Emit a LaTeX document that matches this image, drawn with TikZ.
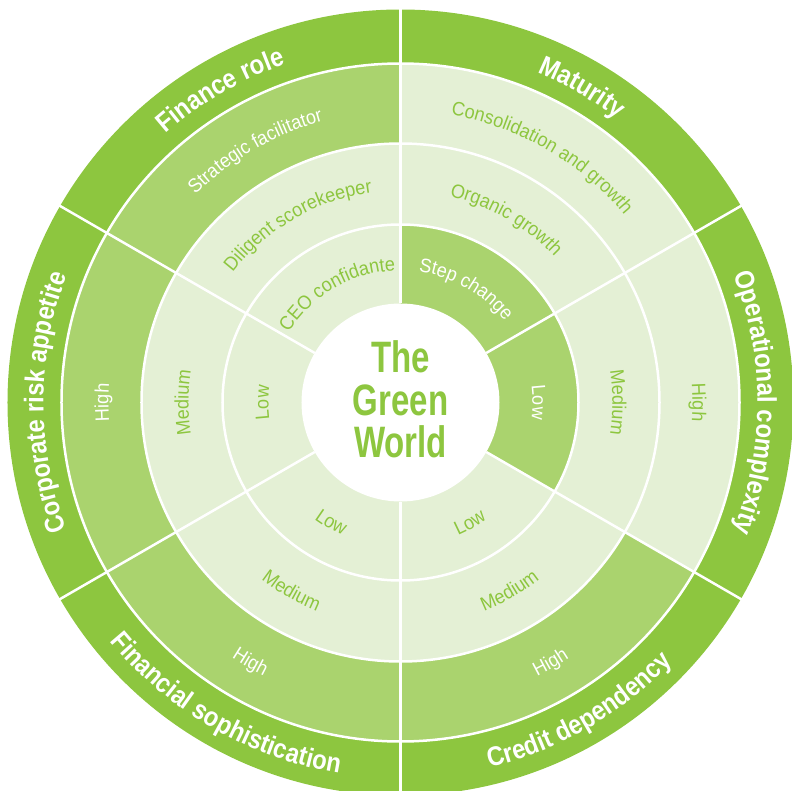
\documentclass[tikz,border=0pt]{standalone}
\usepackage{fontspec}
\setmainfont{Liberation Sans}
\newfontfamily\titlefont[FakeStretch=0.88]{Liberation Sans}
\newfontfamily\labelfont[FakeStretch=0.93]{Liberation Sans}
\newfontfamily\centerfont[FakeStretch=0.75]{Liberation Sans}
\usetikzlibrary{decorations.text}
\definecolor{dg}{RGB}{141,198,63}
\definecolor{mg}{RGB}{170,211,110}
\definecolor{lg}{RGB}{228,240,213}
\newcommand\tfmt{\titlefont\bfseries\fontsize{27}{30}\selectfont\color{white}}
\newcommand\lwfmt{\labelfont\fontsize{19.5}{21}\selectfont\color{white}}
\newcommand\lgfmt{\labelfont\fontsize{19.5}{21}\selectfont\color{dg}}
\newcommand\arctext[5]{%
  \path[decorate, decoration={text along path, text={|#1|#5}, text align=center}]
    (#2:#4pt) arc[start angle=#2, end angle=#3, radius=#4pt];}
\tikzset{sep/.style={draw=white, line width=2.5pt},
  ctr/.style={text=dg, anchor=base, inner sep=0pt, font=\centerfont\bfseries\fontsize{44}{44}\selectfont}}
\begin{document}
\begin{tikzpicture}
\useasboundingbox (-400.5pt,-387.5pt) rectangle (391.5pt,402.5pt);
\clip (-400.5pt,-387.5pt) rectangle (391.5pt,402.5pt);
% discs and sectors
\fill[dg] (0,0) circle[radius=393pt];
\fill[lg] (0,0) circle[radius=339pt];
\fill[mg] (0,0) -- (90:339pt) arc[start angle=90, end angle=330, radius=339pt] -- cycle;
\fill[lg] (0,0) circle[radius=259pt];
\fill[mg] (0,0) -- (-30:178pt) arc[start angle=-30, end angle=90, radius=178pt] -- cycle;
\fill[white] (0,0) circle[radius=99pt];
% separators
\foreach \r in {178,259,339} \draw[sep] (0,0) circle[radius=\r pt];
\foreach \a in {90,30,-30,-90,-150,150} \draw[sep] (\a:99pt) -- (\a:400pt);
% titles
\arctext{\tfmt}{150}{90}{357}{Finance role}
\arctext{\tfmt}{90}{30}{357}{Maturity}
\arctext{\tfmt}{30}{-30}{357}{Operational complexity}
\arctext{\tfmt}{210}{150}{357}{Corporate risk appetite}
\arctext{\tfmt}{210}{270}{376}{Financial sophistication}
\arctext{\tfmt}{270}{330}{376}{Credit dependency}
% ring 3
\arctext{\lwfmt}{150}{90}{292}{Strategic facilitator}
\arctext{\lgfmt}{90}{30}{292}{Consolidation and growth}
\arctext{\lgfmt}{30}{-30}{292}{High}
\arctext{\lwfmt}{210}{150}{292}{High}
\arctext{\lwfmt}{210}{270}{306}{High}
\arctext{\lwfmt}{270}{330}{306}{High}
% ring 2
\arctext{\lgfmt}{150}{90}{212}{Diligent scorekeeper}
\arctext{\lgfmt}{90}{30}{212}{Organic growth}
\arctext{\lgfmt}{30}{-30}{212}{Medium}
\arctext{\lgfmt}{210}{150}{212}{Medium}
\arctext{\lgfmt}{210}{270}{225}{Medium}
\arctext{\lgfmt}{270}{330}{225}{Medium}
% ring 1
\arctext{\lgfmt}{150}{90}{132}{CEO confidante}
\arctext{\lwfmt}{90}{30}{132}{Step change}
\arctext{\lwfmt}{30}{-30}{132}{Low}
\arctext{\lgfmt}{210}{150}{132}{Low}
\arctext{\lgfmt}{210}{270}{145}{Low}
\arctext{\lgfmt}{270}{330}{145}{Low}
% centre
\node[ctr] (the) at (0,30.5pt) {The};
\node[ctr] (green) at (0,-12.5pt) {Green};
\node[ctr] (world) at (0,-54.5pt) {World};
\end{tikzpicture}
\end{document}
